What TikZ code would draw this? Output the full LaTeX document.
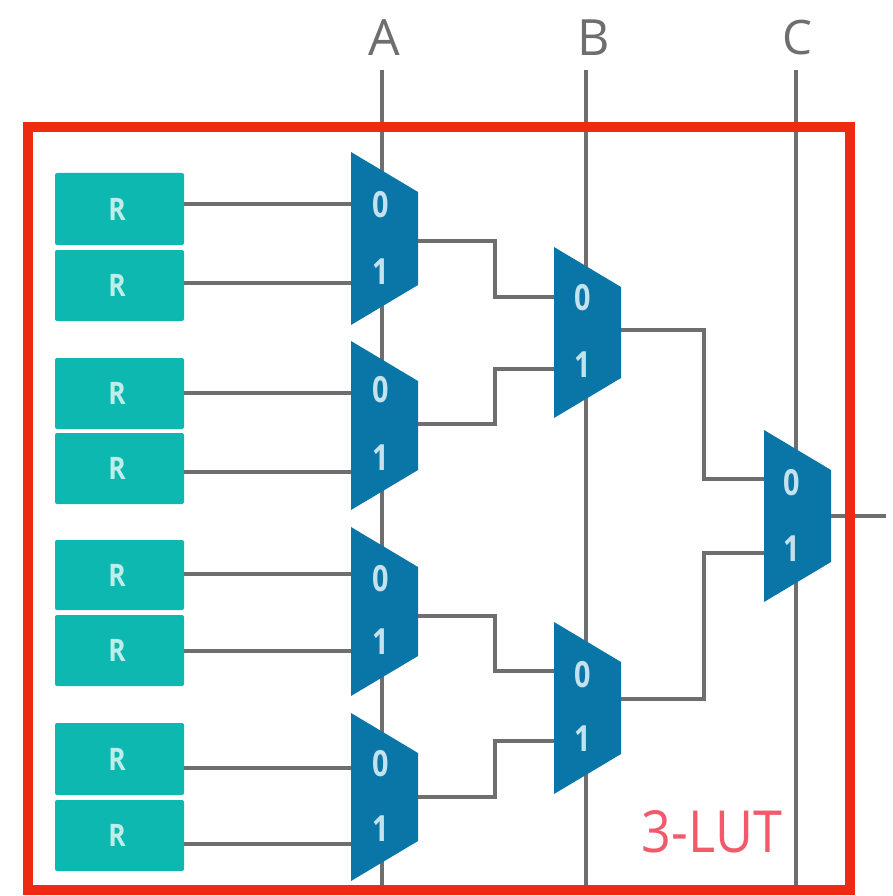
\documentclass[tikz,border=0pt]{standalone}
\usepackage{fontspec}
\setmainfont{Open Sans}
\definecolor{regteal}{HTML}{0DB8B0}
\definecolor{muxblue}{HTML}{0A76A8}
\definecolor{wiregray}{HTML}{6E6E6E}
\definecolor{lutred}{HTML}{EE2A10}
\definecolor{lutpink}{HTML}{F2596B}
\definecolor{digit}{HTML}{C4E2EE}
\definecolor{rtext}{HTML}{BFEDEA}
\tikzset{
  regbox/.style={fill=regteal,rounded corners=2pt,inner sep=0pt,minimum width=129pt,text=rtext,font=\fontsize{31}{31}\selectfont\bfseries},
  wire/.style={draw=wiregray,line width=4pt,line join=miter},
  selwire/.style={draw=wiregray,line width=3.6pt},
  muxbody/.style={fill=muxblue},
  muxdigit/.style={text=digit,inner sep=0pt,font=\fontsize{36}{36}\selectfont\bfseries},
  inlabel/.style={text=wiregray,inner sep=0pt,font=\fontsize{50}{50}\selectfont},
  lutframe/.style={draw=lutred,line width=9.5pt},
  lutlabel/.style={text=lutpink,inner sep=0pt,font=\fontsize{58}{58}\selectfont}
}
% name, left x, top y, bottom y, input y0, input y1, digit x, digit y0, digit y1
\newcommand{\muxunit}[9]{%
  \fill[muxbody] (#2,#3) -- (#2+67,#3+40) -- (#2+67,#4-40) -- (#2,#4) -- cycle;
  \coordinate (#1i0) at (#2,#5);
  \coordinate (#1i1) at (#2,#6);
  \coordinate (#1o) at (#2+67,#3/2+#4/2);
  \node[muxdigit] (#1d0) at (#7,#8) {\scalebox{.8}[1]{0}};
  \node[muxdigit] (#1d1) at (#7,#9) {\scalebox{.8}[1]{1}};
}
\newcommand{\regunit}[3]{%
  \node[regbox,minimum height=#3pt] (#1) at (119.5,#2) {\hspace*{-5pt}\scalebox{.85}[1]{R}};
}
\begin{document}
\begin{tikzpicture}[x=1pt,y=-1pt]
\useasboundingbox (0,0) rectangle (893,896);
\fill[white] (0,0) rectangle (893,896);
% select lines
\node[inlabel] (la) at (384,38) {A};
\node[inlabel] (lb) at (594,38) {B};
\node[inlabel,scale=.95] (lc) at (797,38) {C};
\coordinate (ab) at (382,885);
\coordinate (bb) at (586,890);
\coordinate (cb) at (796,890);
\coordinate (at) at (382,70);
\coordinate (bt) at (586,70);
\coordinate (ct) at (796,70);
\draw[selwire] (at) -- (ab);
\draw[selwire] (bt) -- (bb);
\draw[selwire] (ct) -- (cb);
% registers
\regunit{r1}{209}{72}
\regunit{r2}{285.5}{71}
\regunit{r3}{393.5}{71}
\regunit{r4}{468.5}{71}
\regunit{r5}{575}{70}
\regunit{r6}{650.5}{71}
\regunit{r7}{759}{72}
\regunit{r8}{835.5}{71}
% muxes
\muxunit{m1}{351}{152}{325}{204}{283}{381}{205}{272}
\muxunit{m2}{351}{341}{510}{393}{472}{381}{390}{458}
\muxunit{m3}{351}{527}{696}{574}{651}{381}{579}{642}
\muxunit{m4}{351}{713}{881}{768}{844}{381}{764}{829}
\muxunit{m5}{554}{247}{418}{297}{369}{583}{298}{365}
\muxunit{m6}{554}{622}{794}{671}{741}{583}{675}{739}
\muxunit{m7}{764}{430}{602}{479}{553}{792}{483}{549}
% output of the LUT
\coordinate (out) at (886,516);
% wires
\draw[wire] (r1.east |- m1i0) -- (m1i0);
\draw[wire] (r2.east |- m1i1) -- (m1i1);
\draw[wire] (r3.east |- m2i0) -- (m2i0);
\draw[wire] (r4.east |- m2i1) -- (m2i1);
\draw[wire] (r5.east |- m3i0) -- (m3i0);
\draw[wire] (r6.east |- m3i1) -- (m3i1);
\draw[wire] (r7.east |- m4i0) -- (m4i0);
\draw[wire] (r8.east |- m4i1) -- (m4i1);
\draw[wire] (m1o |- 0,241) -- (495,241) -- (495,297) -- (m5i0);
\draw[wire] (m2o |- 0,424) -- (495,424) -- (495,369) -- (m5i1);
\draw[wire] (m3o |- 0,616) -- (495,616) -- (495,671) -- (m6i0);
\draw[wire] (m4o |- 0,797) -- (495,797) -- (495,741) -- (m6i1);
\draw[wire] (m5o |- 0,330) -- (704,330) -- (704,479) -- (m7i0);
\draw[wire] (m6o |- 0,699) -- (704,699) -- (704,553) -- (m7i1);
\draw[wire] (m7o) -- (out);
% frame and title
\node[lutframe,minimum width=822pt,minimum height=763pt,inner sep=0pt] (frame) at (439,508.5) {};
\node[lutlabel] (lut) at (712,832) {\scalebox{.9}[1]{3-LUT}};
\end{tikzpicture}
\end{document}
